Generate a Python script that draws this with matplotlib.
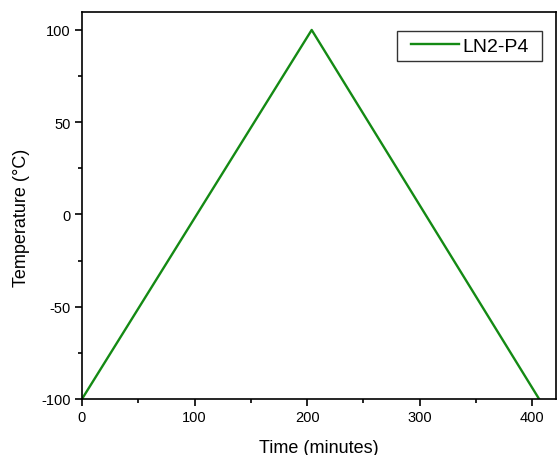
import matplotlib
matplotlib.use("Agg")
import matplotlib.pyplot as plt
from matplotlib.ticker import MultipleLocator
from matplotlib.patches import Rectangle

plt.rcParams['font.family'] = ['Liberation Sans', 'DejaVu Sans']
plt.rcParams['axes.unicode_minus'] = False

time_min = [0, 204, 406]
temperature = [-100, 100, -100]
series_label = "LN2-P4"

fig = plt.figure(figsize=(5.58, 4.56), dpi=100)
ax = fig.add_axes([82/558, 1 - 400/456, (556-82)/558, (400-12.5)/456])
ax.plot(time_min, temperature, color='#148a14', lw=1.7, label=series_label)
ax.set_xlim(0, 421)
ax.set_ylim(-100, 110)
ax.xaxis.set_major_locator(MultipleLocator(100))
ax.xaxis.set_minor_locator(MultipleLocator(50))
ax.yaxis.set_major_locator(MultipleLocator(50))
ax.yaxis.set_minor_locator(MultipleLocator(25))
ax.tick_params(which='major', direction='out', length=5, width=1.2, labelsize=10.5, pad=3)
ax.tick_params(which='minor', direction='out', length=3, width=1.2)
for s in ax.spines.values():
    s.set_linewidth(1.2)
ax.set_xlabel("Time (minutes)", fontsize=13)
ax.set_ylabel("Temperature (°C)", fontsize=13)
ax.xaxis.set_label_coords(0.5, -49/387.5, transform=ax.transAxes)
ax.yaxis.set_label_coords(-60/474, (400-217.5)/387.5, transform=ax.transAxes)
ax.xaxis.label.set_va('center')
ax.yaxis.label.set_va('center')

# legend frame (axes fraction) and frameless legend centred in it
fx0, fx1 = (397-82)/474, (542-82)/474
fy0, fy1 = (400-62)/387.5, (400-32)/387.5
ax.add_patch(Rectangle((fx0, fy0), fx1-fx0, fy1-fy0, transform=ax.transAxes,
                       facecolor='white', edgecolor='#333333', lw=1.0, zorder=4))
leg = ax.legend(loc='center', bbox_to_anchor=((fx0+fx1)/2, (fy0+fy1)/2),
                borderaxespad=0, borderpad=0, fontsize=14, frameon=False,
                handlelength=2.5, handletextpad=0.15)
leg.set_zorder(5)
fig.savefig("out.png", dpi=100)
